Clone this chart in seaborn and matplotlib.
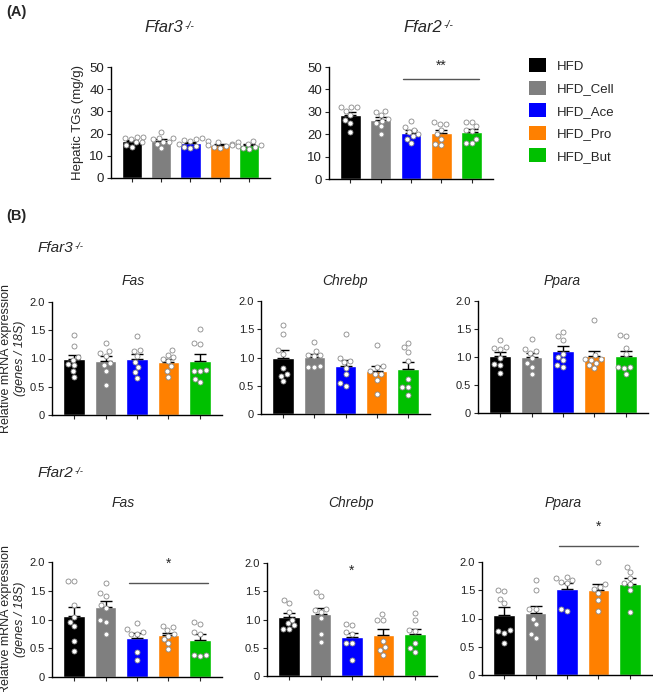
import numpy as np
import pandas as pd
import matplotlib
matplotlib.use("Agg")
import matplotlib.pyplot as plt
from matplotlib.patches import Patch
import seaborn as sns

sns.set_style("ticks")
plt.rcParams['font.family'] = ['Liberation Sans', 'DejaVu Sans']

# groups and colours
groups = ["HFD", "HFD_Cell", "HFD_Ace", "HFD_Pro", "HFD_But"]
colors = ["#000000", "#7f7f7f", "#0000ff", "#ff8000", "#00c000"]

# (A) hepatic TGs (mg/g)
tg_ffar3 = [[18.5, 18, 17.5, 18.5, 16, 14, 15, 16],
            [20.5, 18, 18, 17.5, 16, 13.5, 15.5, 16],
            [17.5, 17, 18, 16.5, 14, 13.5, 14.5, 15.5],
            [16.5, 16, 15.5, 15, 14, 13.5, 14.5, 15],
            [16.5, 16, 15.5, 14.5, 13.5, 14, 15, 13]]
tg_ffar2 = [[32, 32, 32, 30.5, 28.5, 26.5, 25, 21],
            [30.5, 30, 28.5, 27, 26, 25, 23.5, 20],
            [26, 23, 22, 21, 20, 19, 18, 16],
            [25.5, 24.5, 24.5, 22, 20, 18, 15.5, 15],
            [25.5, 25.5, 23.5, 22, 21.5, 18, 16, 16]]

# (B) relative mRNA expression, Ffar3-/-
fas_ffar3 = [[1.42, 1.22, 1.03, 0.98, 0.9, 0.88, 0.78, 0.68],
             [1.27, 1.14, 1.09, 1.05, 0.92, 0.88, 0.78, 0.53],
             [1.39, 1.15, 1.14, 1.05, 0.93, 0.85, 0.76, 0.66],
             [1.15, 1.07, 1.02, 1.0, 0.96, 0.86, 0.78, 0.68],
             [1.52, 1.27, 1.25, 0.8, 0.78, 0.77, 0.64, 0.58]]
chrebp_ffar3 = [[1.58, 1.42, 1.13, 1.07, 0.82, 0.7, 0.68, 0.58],
                [1.27, 1.12, 1.05, 1.04, 1.02, 0.85, 0.84, 0.84],
                [1.41, 1.0, 0.93, 0.92, 0.82, 0.7, 0.55, 0.5],
                [1.23, 0.85, 0.84, 0.76, 0.7, 0.7, 0.6, 0.36],
                [1.26, 1.18, 1.1, 0.93, 0.62, 0.48, 0.47, 0.34]]
ppara_ffar3 = [[1.3, 1.17, 1.16, 1.15, 0.98, 0.88, 0.85, 0.71],
               [1.33, 1.14, 1.1, 1.08, 0.98, 0.89, 0.83, 0.7],
               [1.45, 1.38, 1.31, 1.06, 1.0, 0.94, 0.86, 0.82],
               [1.66, 1.03, 0.97, 0.96, 0.95, 0.9, 0.85, 0.8],
               [1.38, 1.39, 1.16, 1.05, 0.82, 0.82, 0.8, 0.7]]

# (B) relative mRNA expression, Ffar2-/-
fas_ffar2 = [[1.67, 1.67, 1.25, 1.05, 0.95, 0.88, 0.62, 0.46],
             [1.64, 1.46, 1.41, 1.26, 1.2, 1.0, 0.95, 0.75],
             [0.94, 0.83, 0.78, 0.75, 0.74, 0.43, 0.3],
             [0.88, 0.87, 0.82, 0.74, 0.72, 0.66, 0.6, 0.49],
             [0.96, 0.93, 0.78, 0.75, 0.38, 0.38, 0.37]]
chrebp_ffar2 = [[1.35, 1.3, 1.14, 1.0, 0.93, 0.9, 0.84, 0.83],
                [1.48, 1.41, 1.18, 1.17, 1.14, 1.02, 0.75, 0.6],
                [0.92, 0.91, 0.77, 0.74, 0.59, 0.58, 0.28],
                [1.09, 1.0, 0.99, 0.62, 0.52, 0.46, 0.37],
                [1.11, 0.99, 0.81, 0.8, 0.58, 0.49, 0.42]]
ppara_ffar2 = [[1.51, 1.49, 1.35, 1.27, 0.79, 0.78, 0.75, 0.57],
               [1.68, 1.5, 1.17, 1.16, 1.0, 0.91, 0.72, 0.66],
               [1.74, 1.71, 1.68, 1.65, 1.63, 1.16, 1.13],
               [2.0, 1.61, 1.55, 1.52, 1.45, 1.33, 1.13],
               [1.92, 1.83, 1.72, 1.62, 1.61, 1.5, 1.12]]

W, H = 653, 692
fig = plt.figure(figsize=(W / 100, H / 100), dpi=100)


def px_axes(x0, x1, y0, y1):
    return fig.add_axes([x0 / W, 1 - y1 / H, (x1 - x0) / W, (y1 - y0) / H])


def ftext(x, y, s, **kw):
    return fig.text(x / W, 1 - y / H, s, **kw)


def knockout(x, y, name, fs, ha="center"):
    # italic gene name with a small "-/-" superscript
    if ha == "center":
        x -= 7  # keep the whole label roughly centred
    t = ftext(x, y, name, fontsize=fs, style="italic", ha=ha, va="center")
    ann = plt.annotate("-/-", xy=(1.0, 0.95), xycoords=t, fontsize=fs * 0.62,
                       style="italic", ha="left", va="top",
                       xytext=(0.5, 0), textcoords="offset points")
    ann.set_annotation_clip(False)
    return t


def draw_panel(ax, values, ymax, yticks, ylabels, fs):
    rows = [(g, v) for g, vals in zip(groups, values) for v in vals]
    df = pd.DataFrame(rows, columns=["group", "value"])
    sns.barplot(data=df, x="group", y="value", hue="group", order=groups,
                hue_order=groups, palette=colors, errorbar=None, width=0.68,
                saturation=1, legend=False, ax=ax, zorder=1)
    stats = df.groupby("group")["value"].agg(["mean", "sem"]).reindex(groups)
    ax.errorbar(np.arange(len(groups)), stats["mean"],
                yerr=[np.zeros(len(groups)), stats["sem"]], fmt="none",
                ecolor="black", elinewidth=1, capsize=4, capthick=1, zorder=3)
    sns.swarmplot(data=df, x="group", y="value", order=groups, color="white",
                  edgecolor="#8a8a8a", linewidth=0.6, size=3.6, ax=ax, zorder=4)
    for c in ax.collections:
        c.set_clip_on(False)
    ax.set_xlim(-0.7, 4.7)
    ax.set_ylim(0, ymax)
    ax.set_yticks(yticks)
    ax.set_yticklabels(ylabels, fontsize=fs, color="#222222")
    ax.set_xticks(np.arange(len(groups)))
    ax.set_xticklabels([])
    ax.set_xlabel("")
    ax.set_ylabel("")
    ax.tick_params(axis="both", length=3, width=0.8, pad=2)
    for s in ["top", "right"]:
        ax.spines[s].set_visible(False)
    for s in ["left", "bottom"]:
        ax.spines[s].set_linewidth(1)
        ax.spines[s].set_color("black")


def sig(ax, y_line, y_star, stars, x0=1.75, x1=4.25, line=True):
    if line:
        ax.plot([x0, x1], [y_line, y_line], color="#555555", lw=1, clip_on=False)
    ax.text((x0 + x1) / 2 if line else x0, y_star, stars, ha="center",
            va="center", fontsize=10, clip_on=False)


tg_ticks = [0, 10, 20, 30, 40, 50]
tg_labels = [str(t) for t in tg_ticks]
mr_ticks = [0, 0.5, 1.0, 1.5, 2.0]
mr_labels = ["0", "0.5", "1.0", "1.5", "2.0"]

# (A)
axA1 = px_axes(111, 270, 67, 178)
draw_panel(axA1, tg_ffar3, 50, tg_ticks, tg_labels, 9.5)
axA1.set_ylabel("Hepatic TGs (mg/g)", fontsize=9.5, labelpad=4)
axA2 = px_axes(329, 493, 67, 179)
draw_panel(axA2, tg_ffar2, 50, tg_ticks, tg_labels, 9.5)
sig(axA2, 44.5, 50.5, "**")

ftext(6, 12, "(A)", fontsize=10.5, fontweight="bold", va="center")
knockout(171, 28, "Ffar3", 12)
knockout(430, 27, "Ffar2", 12)

handles = [Patch(facecolor=c, edgecolor="none", label=g) for g, c in zip(groups, colors)]
fig.legend(handles=handles, loc="upper left", bbox_to_anchor=(529 / W, 1 - 58 / H),
           frameon=False, fontsize=9.5, handlelength=1.3, handleheight=1.3,
           labelspacing=0.6, handletextpad=0.8, borderpad=0, borderaxespad=0)

# (B)
ftext(6, 216, "(B)", fontsize=10.5, fontweight="bold", va="center")
knockout(38, 248, "Ffar3", 11, ha="left")
knockout(38, 473, "Ffar2", 11, ha="left")

row1 = [(52, 222, 302, 415, fas_ffar3, "Fas", 133),
        (261, 430, 301, 414, chrebp_ffar3, "Chrebp", 345),
        (478, 648, 301, 413, ppara_ffar3, "Ppara", 562)]
row2 = [(52, 222, 562, 677, fas_ffar2, "Fas", 123),
        (267, 437, 563, 676, chrebp_ffar2, "Chrebp", 351),
        (482, 652, 562, 675, ppara_ffar2, "Ppara", 563)]

axes_r1 = []
for x0, x1, y0, y1, vals, gene, tx in row1:
    ax = px_axes(x0, x1, y0, y1)
    draw_panel(ax, vals, 2.0, mr_ticks, mr_labels, 8)
    ftext(tx, 281, gene, fontsize=10, style="italic", ha="center", va="center")
    axes_r1.append(ax)

axes_r2 = []
for x0, x1, y0, y1, vals, gene, tx in row2:
    ax = px_axes(x0, x1, y0, y1)
    draw_panel(ax, vals, 2.0, mr_ticks, mr_labels, 8)
    ftext(tx, 503, gene, fontsize=10, style="italic", ha="center", va="center")
    axes_r2.append(ax)

sig(axes_r2[0], 1.64, 1.97, "*")
sig(axes_r2[1], None, 1.86, "*", x0=2, line=False)
sig(axes_r2[2], 2.28, 2.63, "*")

for yc in [358, 619]:
    ftext(6, yc, "Relative mRNA expression", fontsize=9, rotation=90,
          ha="center", va="center")
    ftext(20, yc, "(genes / 18S)", fontsize=9, style="italic", rotation=90,
          ha="center", va="center")

fig.savefig("out.png", dpi=100)
